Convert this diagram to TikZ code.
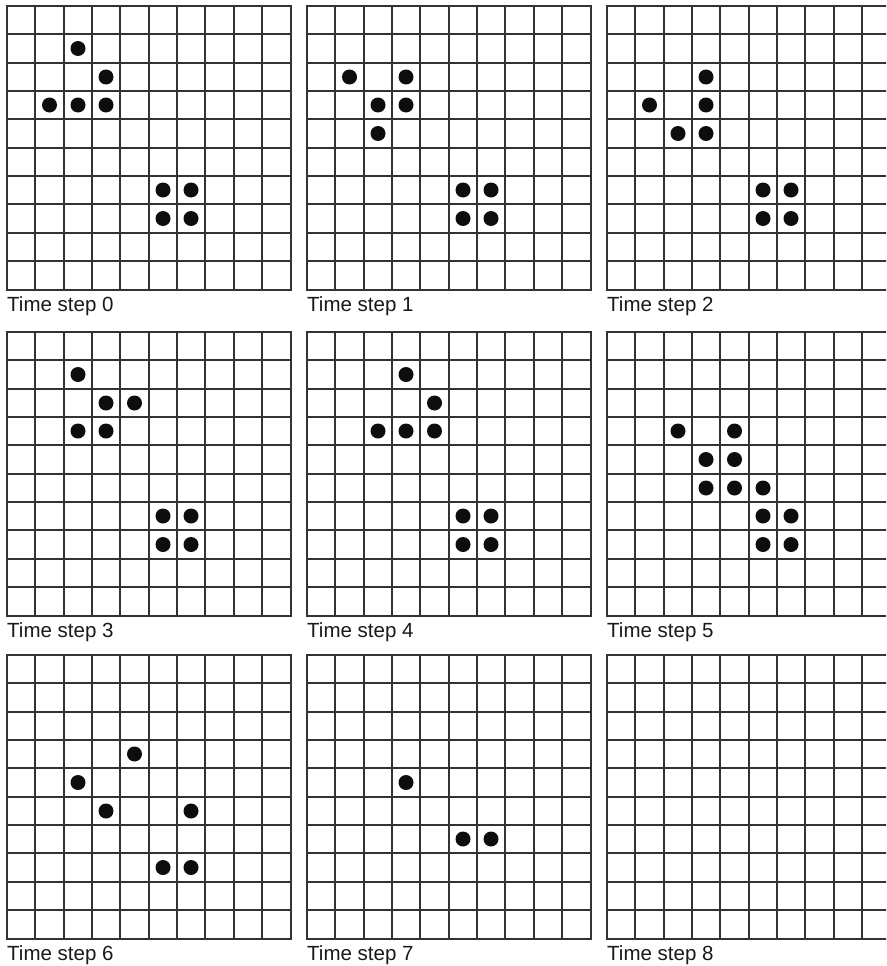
\documentclass[tikz,border=0pt]{standalone}
\usepackage{fontspec}
\setmainfont{Liberation Sans}
\newcommand\lifegrid[4]{% x, y, name, label
  \begin{scope}[shift={(#1,#2)}]
    \foreach \i [evaluate=\i as \p using {round(\i*28.35)}] in {0,...,10} {
      \draw[gridline] (\p,0) -- (\p,284);
      \draw[gridline] (0,\p) -- (284,\p);
    }
    \node[steplabel] (#3) at (0,305.5) {#4};
  \end{scope}}
\newcommand\lifecells[3]{% x, y, cells
  \begin{scope}[shift={(#1,#2)}]
    \foreach \c/\r [evaluate=\c as \cx using {(round(\c*28.35)+round((\c+1)*28.35))/2},
                    evaluate=\r as \ry using {(round(\r*28.35)+round((\r+1)*28.35))/2}] in {#3} {
      \fill[livecell] (\cx,\ry) circle[radius=7.5pt];
    }
  \end{scope}}
\begin{document}
\begin{tikzpicture}[x=1pt,y=-1pt,
  gridline/.style={line width=1.7pt, black!80, line cap=rect},
  livecell/.style={black!95},
  steplabel/.style={anchor=base west, inner sep=0pt, text=black!90, font=\fontsize{20.5}{24}\selectfont}]
\useasboundingbox (0,0) rectangle (886,966);
\clip (0,0) rectangle (886,966);
\fill[white] (0,0) rectangle (886,966);
% row 1
\lifegrid{7}{6}{t0}{Time step 0}
\lifecells{7}{6}{2/1,3/2,1/3,2/3,3/3,5/6,6/6,5/7,6/7}
\lifegrid{307}{6}{t1}{Time step 1}
\lifecells{307}{6}{1/2,3/2,2/3,3/3,2/4,5/6,6/6,5/7,6/7}
\lifegrid{607}{6}{t2}{Time step 2}
\lifecells{607}{6}{3/2,1/3,3/3,2/4,3/4,5/6,6/6,5/7,6/7}
% row 2
\lifegrid{7}{332}{t3}{Time step 3}
\lifecells{7}{332}{2/1,3/2,4/2,2/3,3/3,5/6,6/6,5/7,6/7}
\lifegrid{307}{332}{t4}{Time step 4}
\lifecells{307}{332}{3/1,4/2,2/3,3/3,4/3,5/6,6/6,5/7,6/7}
\lifegrid{607}{332}{t5}{Time step 5}
\lifecells{607}{332}{2/3,4/3,3/4,4/4,3/5,4/5,5/5,5/6,6/6,5/7,6/7}
% row 3
\lifegrid{7}{655}{t6}{Time step 6}
\lifecells{7}{655}{4/3,2/4,3/5,6/5,5/7,6/7}
\lifegrid{307}{655}{t7}{Time step 7}
\lifecells{307}{655}{3/4,5/6,6/6}
\lifegrid{607}{655}{t8}{Time step 8}
\end{tikzpicture}
\end{document}
